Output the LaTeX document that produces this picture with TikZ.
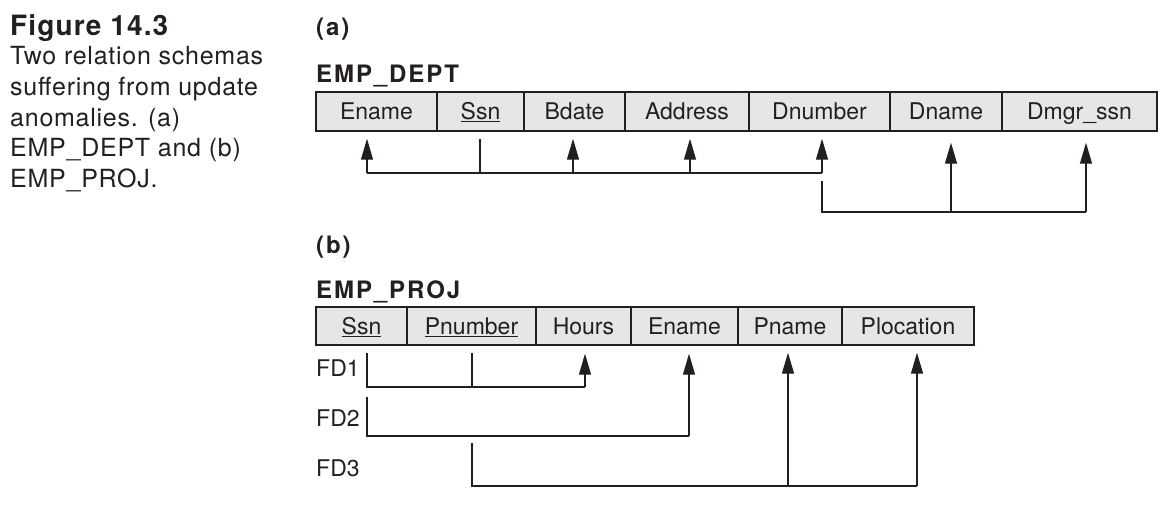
\documentclass[tikz,border=0pt]{standalone}
\usepackage{fontspec}
\setmainfont{TeX Gyre Heros}
\newfontfamily\capfont[LetterSpace=3]{TeX Gyre Heros}
\newfontfamily\figfont[LetterSpace=4]{TeX Gyre Heros}
\newfontfamily\headfont[LetterSpace=8]{TeX Gyre Heros}
\usetikzlibrary{arrows.meta}
\definecolor{ink}{HTML}{231F20}
\definecolor{cellgray}{HTML}{E6E6E6}
\begin{document}
\begin{tikzpicture}[x=1pt,y=-1pt,
  cell/.style={draw=ink, line width=1.4pt, fill=cellgray, inner sep=0pt,
    text height=16.5pt, text depth=0pt, font=\fontsize{23pt}{27pt}\selectfont, text=ink},
  topcell/.style={cell, minimum height=39pt},
  botcell/.style={cell, minimum height=38pt},
  fd/.style={draw=ink, line width=1.2pt},
  arr/.style={fd, -{Triangle[length=21pt,width=12pt]}},
  plain/.style={inner sep=0pt, text=ink, font=\fontsize{23pt}{30.6pt}\selectfont},
  captext/.style={inner sep=0pt, text=ink, font=\capfont\fontsize{25pt}{30.6pt}\selectfont},
  figtitle/.style={inner sep=0pt, text=ink, font=\figfont\fontsize{28pt}{32pt}\selectfont\bfseries},
  heading/.style={inner sep=0pt, text=ink, font=\headfont\fontsize{24pt}{28pt}\selectfont\bfseries}
]
\useasboundingbox (0,0) rectangle (1174,531);

% caption
\node[figtitle, anchor=base west] (figno) at (10,35) {Figure 14.3};
\node[captext, anchor=north west, align=left] (caption) at (10,46.5)
  {Two relation schemas\\suffering from update\\anomalies. (a)\\EMP\_DEPT and (b)\\EMP\_PROJ.};

% (a) EMP_DEPT
\node[heading, anchor=base west] (la) at (316,35) {(a)};
\node[heading, anchor=base west] (lempdept) at (316,82) {EMP\_DEPT};
\node[topcell, minimum width=121pt] (e1) at (376.5,111.5) {Ename};
\node[topcell, minimum width=87pt]  (e2) at (480.5,111.5) {\underline{Ssn}};
\node[topcell, minimum width=101pt] (e3) at (574.5,111.5) {Bdate};
\node[topcell, minimum width=124pt] (e4) at (687,111.5) {Address};
\node[topcell, minimum width=141pt] (e5) at (819.5,111.5) {Dnumber};
\node[topcell, minimum width=112pt] (e6) at (946,111.5) {Dname};
\node[topcell, minimum width=155pt] (e7) at (1079.5,111.5) {Dmgr\_ssn};

\coordinate (g1a) at (367,173);
\coordinate (g1s) at (480,173);
\coordinate (g1b) at (573,173);
\coordinate (g1c) at (690,173);
\coordinate (g1e) at (822,173);
\draw[fd] (g1a) -- (g1e);
\draw[arr, shorten >=7pt] (g1a) -- (g1a |- e1.south);
\draw[fd, shorten >=7pt] (g1s) -- (g1s |- e2.south);
\draw[arr, shorten >=7pt] (g1b) -- (g1b |- e3.south);
\draw[arr, shorten >=7pt] (g1c) -- (g1c |- e4.south);
\draw[arr, shorten >=7pt] (g1e) -- (g1e |- e5.south);

\coordinate (g2top) at (822,181);
\coordinate (g2a) at (822,212);
\coordinate (g2b) at (951,212);
\coordinate (g2c) at (1086,212);
\draw[fd] (g2top) -- (g2a) -- (g2c);
\draw[arr, shorten >=11pt] (g2b) -- (g2b |- e6.south);
\draw[arr, shorten >=11pt] (g2c) -- (g2c |- e7.south);

% (b) EMP_PROJ
\node[heading, anchor=base west] (lb) at (316,253) {(b)};
\node[heading, anchor=base west] (lempproj) at (316,298) {EMP\_PROJ};
\node[botcell, minimum width=91pt]  (p1) at (361.5,326) {\underline{Ssn}};
\node[botcell, minimum width=129pt] (p2) at (471.5,326) {\underline{Pnumber}};
\node[botcell, minimum width=95pt]  (p3) at (583.5,326) {Hours};
\node[botcell, minimum width=107pt] (p4) at (684.5,326) {Ename};
\node[botcell, minimum width=104pt] (p5) at (790,326) {Pname};
\node[botcell, minimum width=132pt] (p6) at (908,326) {Plocation};

\node[plain, anchor=west] (fd1) at (316,368) {FD1};
\node[plain, anchor=west] (fd2) at (316,418) {FD2};
\node[plain, anchor=west] (fd3) at (316,468) {FD3};

\coordinate (f1a) at (367,387);
\coordinate (f1b) at (472,387);
\coordinate (f1c) at (585,387);
\draw[fd, shorten <=7pt] (f1a |- p1.south) -- (f1a) -- (f1c);
\draw[fd, shorten >=7pt] (f1b) -- (f1b |- p2.south);
\draw[arr, shorten >=8pt] (f1c) -- (f1c |- p3.south);

\coordinate (f2top) at (367,397);
\coordinate (f2a) at (367,436);
\coordinate (f2b) at (689,436);
\draw[fd] (f2top) -- (f2a) -- (f2b);
\draw[arr, shorten >=8pt] (f2b) -- (f2b |- p4.south);

\coordinate (f3top) at (472,443);
\coordinate (f3a) at (472,486);
\coordinate (f3b) at (788,486);
\coordinate (f3c) at (917,486);
\draw[fd] (f3top) -- (f3a) -- (f3c);
\draw[arr, shorten >=7pt] (f3b) -- (f3b |- p5.south);
\draw[arr, shorten >=7pt] (f3c) -- (f3c |- p6.south);
\end{tikzpicture}
\end{document}
